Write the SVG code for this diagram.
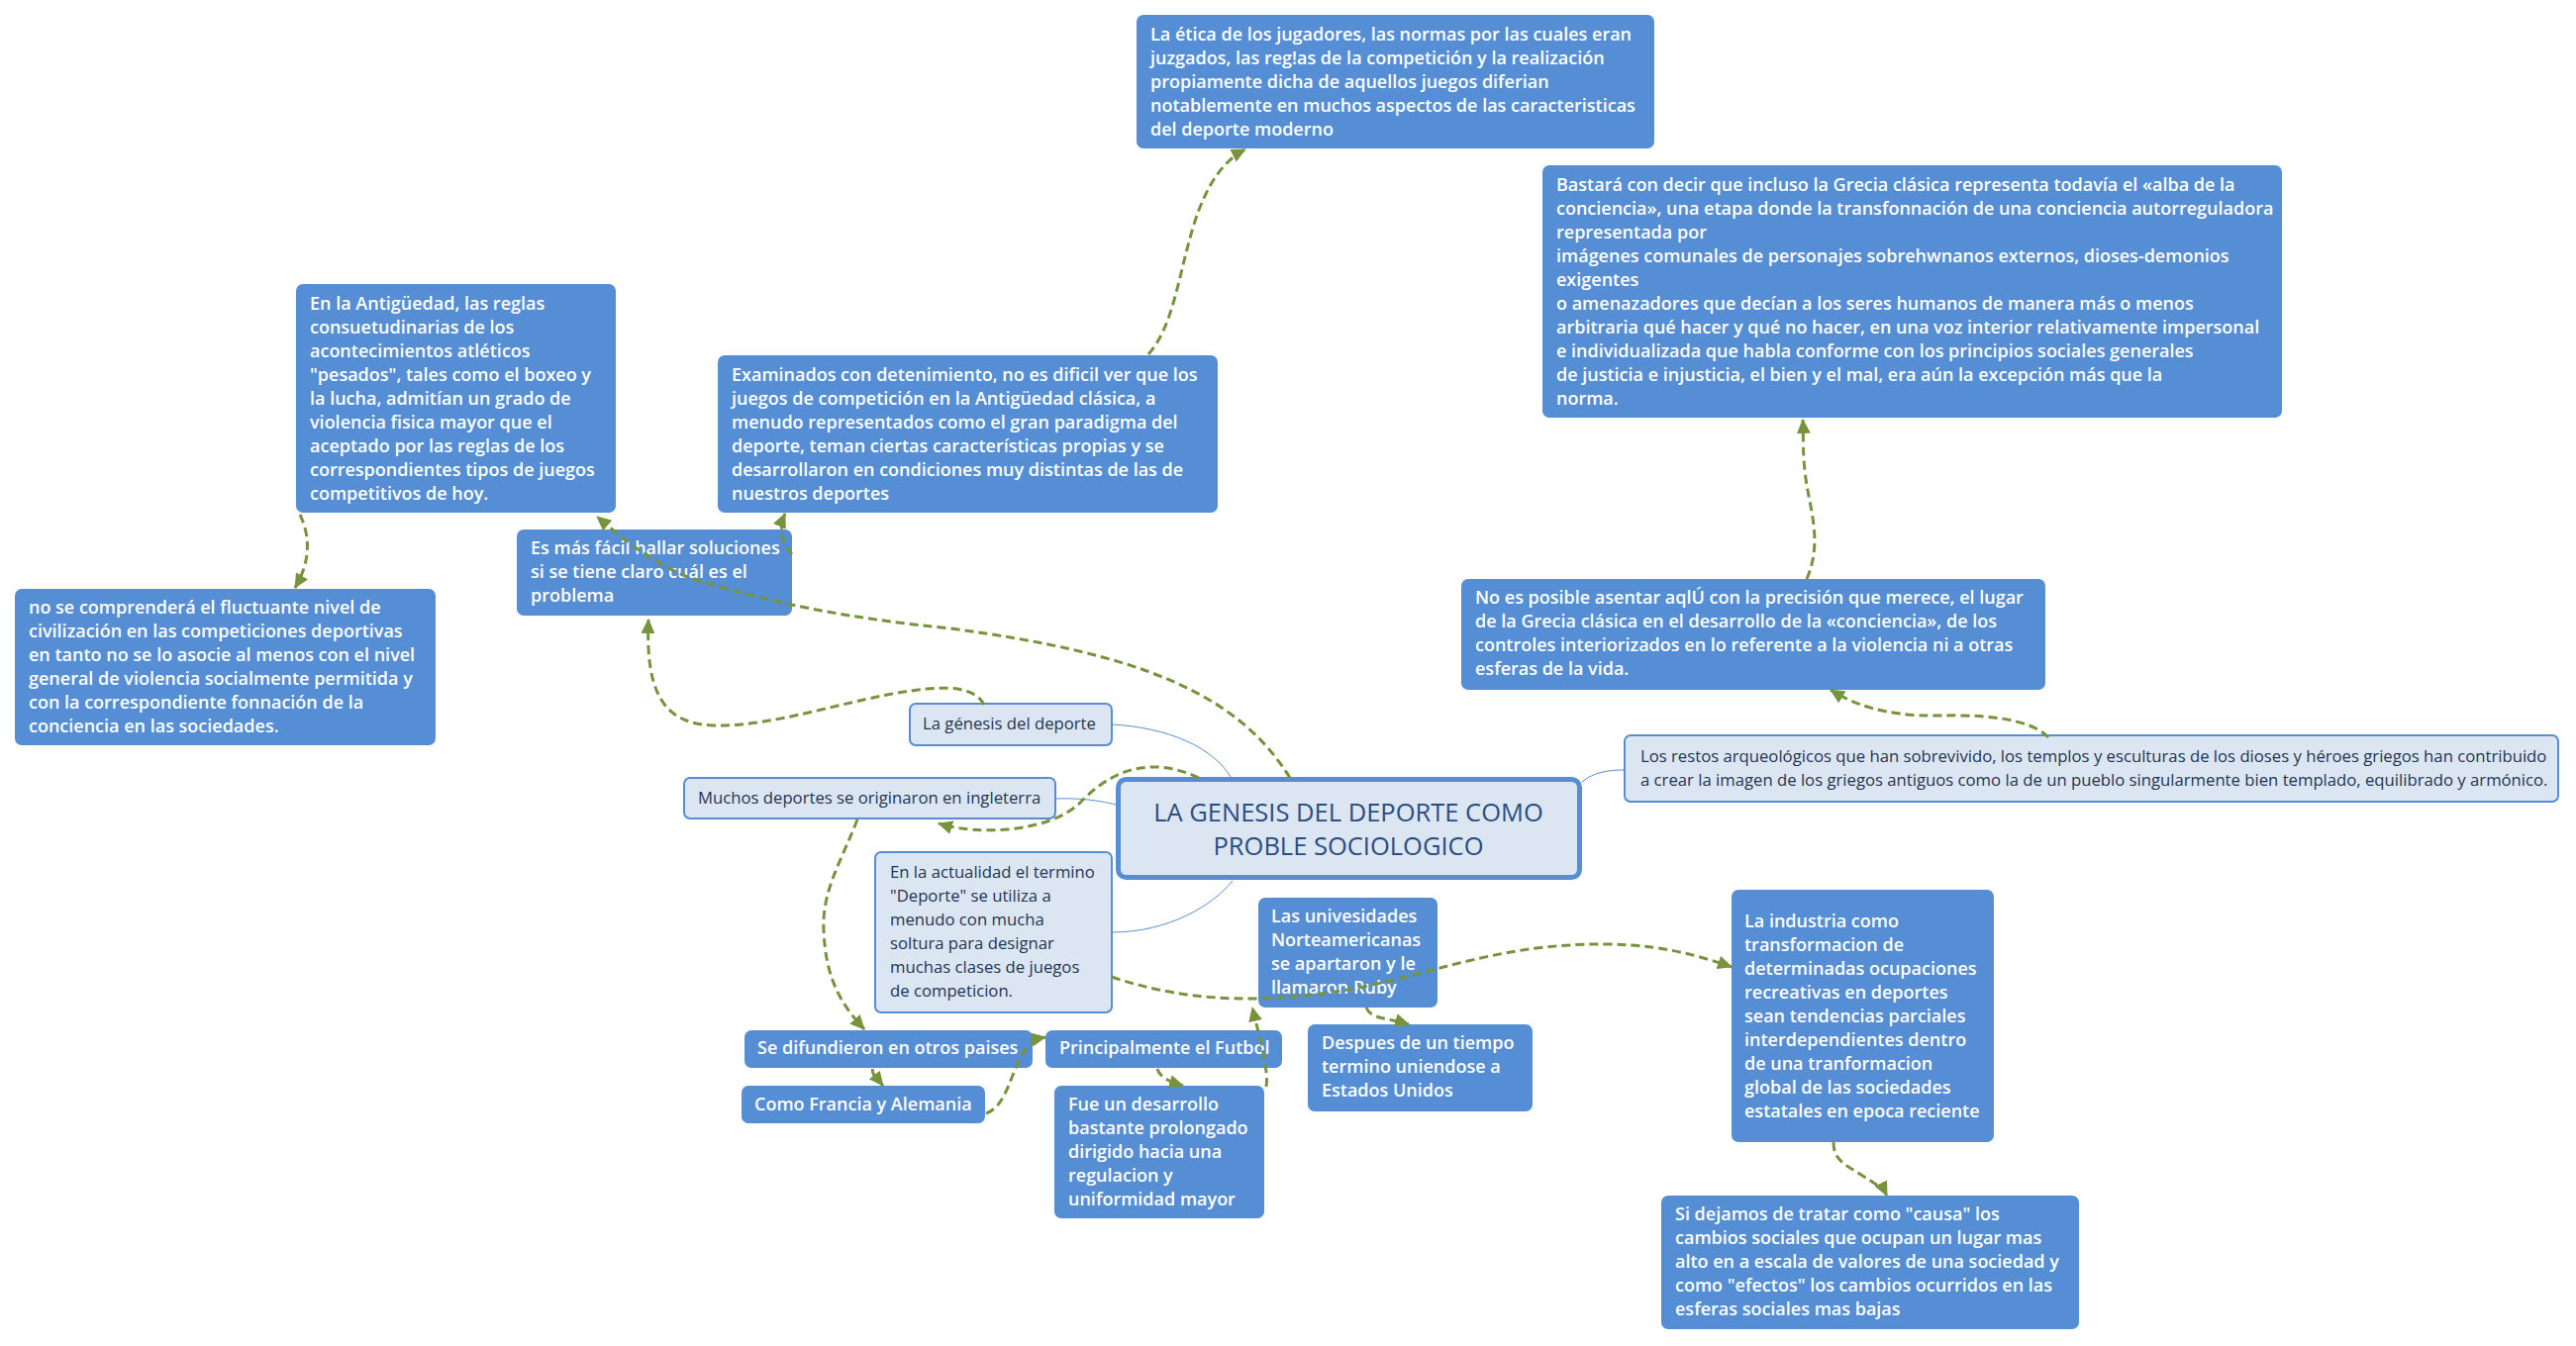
<svg xmlns="http://www.w3.org/2000/svg" width="2602" height="1360" viewBox="0 0 2602 1360">
<style>
.dk{fill:#558ed5}
.lt{fill:#dce6f2;stroke:#558ed5;stroke-width:2}
.ct{fill:#dce6f2;stroke:#558ed5;stroke-width:5}
.dt{font-family:"Open Sans","DejaVu Sans",sans-serif;font-size:18px;font-weight:600;fill:#ffffff}
.lx{font-family:"Open Sans","DejaVu Sans",sans-serif;font-size:16.7px;font-weight:400;fill:#1f3552}
.cx{font-family:"Open Sans","DejaVu Sans",sans-serif;font-size:25.5px;font-weight:400;fill:#2a4d82}
.rel{fill:none;stroke:#77933c;stroke-width:3;stroke-dasharray:9 5;marker-end:url(#ah)}
.thin{fill:none;stroke:#558ed5;stroke-width:1}
</style>
<defs>
<marker id="ah" markerUnits="userSpaceOnUse" markerWidth="16" markerHeight="14" refX="14" refY="7" orient="auto">
<path d="M0,0 L15,7 L0,14 z" fill="#77933c"/>
</marker>
</defs>
<rect width="2602" height="1360" fill="#ffffff"/>

<g id="n-etica">
<rect class="dk" x="1148" y="15" width="523" height="135" rx="7"/>
<text class="dt" x="1162" y="41">La ética de los jugadores, las normas por las cuales eran</text>
<text class="dt" x="1162" y="65">juzgados, las reg!as de la competición y la realización</text>
<text class="dt" x="1162" y="89">propiamente dicha de aquellos juegos diferian</text>
<text class="dt" x="1162" y="113">notablemente en muchos aspectos de las caracteristicas</text>
<text class="dt" x="1162" y="137">del deporte moderno</text>
</g>

<g id="n-bastara">
<rect class="dk" x="1558" y="167" width="747" height="255" rx="7"/>
<text class="dt" x="1572" y="193">Bastará con decir que incluso la Grecia clásica representa todavía el «alba de la</text>
<text class="dt" x="1572" y="217">conciencia», una etapa donde la transfonnación de una conciencia autorreguladora</text>
<text class="dt" x="1572" y="241">representada por</text>
<text class="dt" x="1572" y="265">imágenes comunales de personajes sobrehwnanos externos, dioses-demonios</text>
<text class="dt" x="1572" y="289">exigentes</text>
<text class="dt" x="1572" y="313">o amenazadores que decían a los seres humanos de manera más o menos</text>
<text class="dt" x="1572" y="337">arbitraria qué hacer y qué no hacer, en una voz interior relativamente impersonal</text>
<text class="dt" x="1572" y="361">e individualizada que habla conforme con los principios sociales generales</text>
<text class="dt" x="1572" y="385">de justicia e injusticia, el bien y el mal, era aún la excepción más que la</text>
<text class="dt" x="1572" y="409">norma.</text>
</g>

<g id="n-antiguedad">
<rect class="dk" x="299" y="287" width="323" height="231" rx="7"/>
<text class="dt" x="313" y="313">En la Antigüedad, las reglas</text>
<text class="dt" x="313" y="337">consuetudinarias de los</text>
<text class="dt" x="313" y="361">acontecimientos atléticos</text>
<text class="dt" x="313" y="385">"pesados", tales como el boxeo y</text>
<text class="dt" x="313" y="409">la lucha, admitían un grado de</text>
<text class="dt" x="313" y="433">violencia fisica mayor que el</text>
<text class="dt" x="313" y="457">aceptado por las reglas de los</text>
<text class="dt" x="313" y="481">correspondientes tipos de juegos</text>
<text class="dt" x="313" y="505">competitivos de hoy.</text>
</g>

<g id="n-examinados">
<rect class="dk" x="725" y="359" width="505" height="159" rx="7"/>
<text class="dt" x="739" y="385">Examinados con detenimiento, no es dificil ver que los</text>
<text class="dt" x="739" y="409">juegos de competición en la Antigüedad clásica, a</text>
<text class="dt" x="739" y="433">menudo representados como el gran paradigma del</text>
<text class="dt" x="739" y="457">deporte, teman ciertas características propias y se</text>
<text class="dt" x="739" y="481">desarrollaron en condiciones muy distintas de las de</text>
<text class="dt" x="739" y="505">nuestros deportes</text>
</g>

<g id="n-nose">
<rect class="dk" x="15" y="595" width="425" height="158" rx="7"/>
<text class="dt" x="29" y="620">no se comprenderá el fluctuante nivel de</text>
<text class="dt" x="29" y="644">civilización en las competiciones deportivas</text>
<text class="dt" x="29" y="668">en tanto no se lo asocie al menos con el nivel</text>
<text class="dt" x="29" y="692">general de violencia socialmente permitida y</text>
<text class="dt" x="29" y="716">con la correspondiente fonnación de la</text>
<text class="dt" x="29" y="740">conciencia en las sociedades.</text>
</g>

<g id="n-facil">
<rect class="dk" x="522" y="535" width="278" height="87" rx="7"/>
<text class="dt" x="536" y="560">Es más fácil hallar soluciones</text>
<text class="dt" x="536" y="584">si se tiene claro cuál es el</text>
<text class="dt" x="536" y="608">problema</text>
</g>

<g id="n-posible">
<rect class="dk" x="1476" y="585" width="590" height="112" rx="7"/>
<text class="dt" x="1490" y="610">No es posible asentar aqlÚ con la precisión que merece, el lugar</text>
<text class="dt" x="1490" y="634">de la Grecia clásica en el desarrollo de la «conciencia», de los</text>
<text class="dt" x="1490" y="658">controles interiorizados en lo referente a la violencia ni a otras</text>
<text class="dt" x="1490" y="682">esferas de la vida.</text>
</g>

<g id="n-restos">
<rect class="lt" x="1641" y="743" width="943" height="67" rx="6"/>
<text class="lx" x="1657" y="770">Los restos arqueológicos que han sobrevivido, los templos y esculturas de los dioses y héroes griegos han contribuido</text>
<text class="lx" x="1657" y="794">a crear la imagen de los griegos antiguos como la de un pueblo singularmente bien templado, equilibrado y armónico.</text>
</g>

<g id="n-center">
<rect class="ct" x="1129.5" y="787.5" width="466" height="99" rx="8"/>
<text class="cx" x="1362" y="830" text-anchor="middle">LA GENESIS DEL DEPORTE COMO</text>
<text class="cx" x="1362" y="864" text-anchor="middle">PROBLE SOCIOLOGICO</text>
</g>

<g id="n-genesis">
<rect class="lt" x="919" y="711" width="204" height="42" rx="6"/>
<text class="lx" x="932" y="737">La génesis del deporte</text>
</g>

<g id="n-muchos">
<rect class="lt" x="691" y="786" width="375" height="41" rx="6"/>
<text class="lx" x="705" y="812">Muchos deportes se originaron en ingleterra</text>
</g>

<g id="n-actualidad">
<rect class="lt" x="884" y="861" width="239" height="162" rx="6"/>
<text class="lx" x="899" y="887">En la actualidad el termino</text>
<text class="lx" x="899" y="911">"Deporte" se utiliza a</text>
<text class="lx" x="899" y="935">menudo con mucha</text>
<text class="lx" x="899" y="959">soltura para designar</text>
<text class="lx" x="899" y="983">muchas clases de juegos</text>
<text class="lx" x="899" y="1007">de competicion.</text>
</g>

<g id="n-difundieron">
<rect class="dk" x="752" y="1041" width="291" height="38" rx="7"/>
<text class="dt" x="765" y="1065">Se difundieron en otros paises</text>
</g>

<g id="n-francia">
<rect class="dk" x="749" y="1097" width="246" height="38" rx="7"/>
<text class="dt" x="762" y="1122">Como Francia y Alemania</text>
</g>

<g id="n-futbol">
<rect class="dk" x="1056" y="1041" width="239" height="38" rx="7"/>
<text class="dt" x="1070" y="1065">Principalmente el Futbol</text>
</g>

<g id="n-desarrollo">
<rect class="dk" x="1065" y="1097" width="212" height="134" rx="7"/>
<text class="dt" x="1079" y="1122">Fue un desarrollo</text>
<text class="dt" x="1079" y="1146">bastante prolongado</text>
<text class="dt" x="1079" y="1170">dirigido hacia una</text>
<text class="dt" x="1079" y="1194">regulacion y</text>
<text class="dt" x="1079" y="1218">uniformidad mayor</text>
</g>

<g id="n-univ">
<rect class="dk" x="1271" y="907" width="181" height="111" rx="7"/>
<text class="dt" x="1284" y="932">Las univesidades</text>
<text class="dt" x="1284" y="956">Norteamericanas</text>
<text class="dt" x="1284" y="980">se apartaron y le</text>
<text class="dt" x="1284" y="1004">llamaron Ruby</text>
</g>

<g id="n-despues">
<rect class="dk" x="1321" y="1035" width="227" height="88" rx="7"/>
<text class="dt" x="1335" y="1060">Despues de un tiempo</text>
<text class="dt" x="1335" y="1084">termino uniendose a</text>
<text class="dt" x="1335" y="1108">Estados Unidos</text>
</g>

<g id="n-industria">
<rect class="dk" x="1749" y="899" width="265" height="255" rx="7"/>
<text class="dt" x="1762" y="937">La industria como</text>
<text class="dt" x="1762" y="961">transformacion de</text>
<text class="dt" x="1762" y="985">determinadas ocupaciones</text>
<text class="dt" x="1762" y="1009">recreativas en deportes</text>
<text class="dt" x="1762" y="1033">sean tendencias parciales</text>
<text class="dt" x="1762" y="1057">interdependientes dentro</text>
<text class="dt" x="1762" y="1081">de una tranformacion</text>
<text class="dt" x="1762" y="1105">global de las sociedades</text>
<text class="dt" x="1762" y="1129">estatales en epoca reciente</text>
</g>

<g id="n-dejamos">
<rect class="dk" x="1678" y="1208" width="422" height="135" rx="7"/>
<text class="dt" x="1692" y="1233">Si dejamos de tratar como "causa" los</text>
<text class="dt" x="1692" y="1257">cambios sociales que ocupan un lugar mas</text>
<text class="dt" x="1692" y="1281">alto en a escala de valores de una sociedad y</text>
<text class="dt" x="1692" y="1305">como "efectos" los cambios ocurridos en las</text>
<text class="dt" x="1692" y="1329">esferas sociales mas bajas</text>
</g>

<g id="connectors">
<path class="thin" d="M1123,732 C1180,735 1225,755 1243,785"/>
<path class="thin" d="M1067,807 C1095,806 1115,810 1127,813"/>
<path class="thin" d="M1123,942 C1180,942 1225,915 1245,890"/>
<path class="thin" d="M1598,790 C1610,780 1625,778 1641,778"/>

<path class="rel" d="M1211,786 C1160,762 1120,780 1090,812 C1060,840 990,845 948,832"/>
<path class="rel" d="M1303,786 C1250,700 1150,660 960,635 C860,625 780,610 700,585 C660,570 630,545 603,522"/>
<path class="rel" d="M994,712 C985,695 960,692 920,698 C860,706 780,735 720,733 C670,731 652,700 655,626"/>
<path class="rel" d="M1123,987 C1160,1000 1210,1010 1270,1009 C1400,1005 1450,970 1560,957 C1650,948 1700,960 1749,977"/>
<path class="rel" d="M866,828 C850,870 830,900 832,940 C834,990 850,1015 873,1040"/>
<path class="rel" d="M881,1080 C882,1090 888,1092 892,1097"/>
<path class="rel" d="M996,1125 C1015,1118 1020,1090 1030,1070 C1038,1055 1045,1050 1056,1048"/>
<path class="rel" d="M1169,1080 C1172,1090 1185,1094 1195,1097"/>
<path class="rel" d="M1279,1098 C1282,1080 1270,1040 1265,1018"/>
<path class="rel" d="M1380,1018 C1385,1030 1400,1028 1423,1035"/>
<path class="rel" d="M1852,1154 C1852,1170 1860,1175 1880,1187 C1895,1197 1902,1200 1906,1208"/>
<path class="rel" d="M2069,745 C2050,725 2000,722 1960,723 C1900,724 1870,710 1849,697"/>
<path class="rel" d="M1825,585 C1840,550 1830,520 1825,490 C1820,460 1822,440 1821,424"/>
<path class="rel" d="M1160,358 C1185,330 1190,280 1205,230 C1220,180 1240,160 1258,151"/>
<path class="rel" d="M303,520 C315,545 312,570 298,594"/>
<path class="rel" d="M800,560 C790,550 786,535 793,519"/>
</g>
</svg>
